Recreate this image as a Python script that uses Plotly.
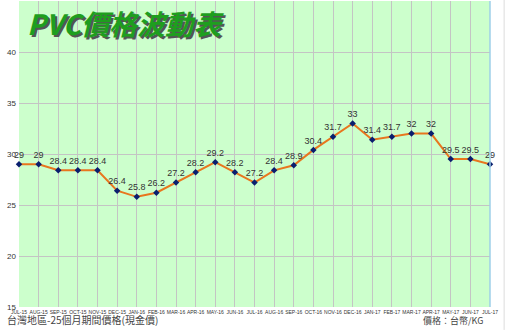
import plotly.graph_objects as go

months = ["JUL-15","AUG-15","SEP-15","OCT-15","NOV-15","DEC-15","JAN-16","FEB-16","MAR-16","APR-16",
          "MAY-16","JUN-16","JUL-16","AUG-16","SEP-16","OCT-16","NOV-16","DEC-16","JAN-17","FEB-17",
          "MAR-17","APR-17","MAY-17","JUN-17","JUL-17"]
prices = [29, 29, 28.4, 28.4, 28.4, 26.4, 25.8, 26.2, 27.2, 28.2,
          29.2, 28.2, 27.2, 28.4, 28.9, 30.4, 31.7, 33, 31.4, 31.7,
          32, 32, 29.5, 29.5, 29]
y_ticks = [15, 20, 25, 30, 35, 40, 45]

fig = go.Figure()
fig.add_trace(go.Scatter(
    x=months, y=prices, mode="lines+markers+text",
    line=dict(color="#E8761E", width=2),
    marker=dict(symbol="diamond", size=5, color="#0A1F6E"),
    text=[f"{p:g}" for p in prices], textposition="top center",
    textfont=dict(size=9, color="#333333", family="Liberation Sans"),
    cliponaxis=False, showlegend=False,
))

fig.update_layout(
    width=510, height=330,
    margin=dict(l=19, r=20, t=1, b=23),
    paper_bgcolor="white", plot_bgcolor="#CCFFCC",
    xaxis=dict(type="category", range=[0, 24], showgrid=True, gridcolor="#C4C4C4", gridwidth=1,
               tickfont=dict(size=5, color="#333333", family="Liberation Sans Narrow, Liberation Sans"),
               tickangle=0, ticks="", showline=False, zeroline=False, ticklabelstandoff=1),
    yaxis=dict(range=[15, 45], tickvals=y_ticks, showgrid=True, gridcolor="#C4C4C4",
               tickfont=dict(size=8, color="#333333", family="Liberation Sans"),
               ticks="", showline=False, zeroline=False, ticklabelstandoff=2),
)

# plot border on right
fig.add_shape(type="line", xref="paper", yref="paper", x0=1, x1=1, y0=0, y1=1,
              line=dict(color="#9ECFE8", width=1.5))
fig.add_shape(type="line", xref="paper", yref="paper", x0=1.03, x1=1.03, y0=-0.075, y1=1.01,
              line=dict(color="#DDDDDD", width=1))

title = "PVC價格波動表"
fig.add_annotation(text=title, xref="paper", yref="paper", x=0.012, y=1.0,
                   xanchor="left", yanchor="top", showarrow=False,
                   font=dict(size=28, color="#555555", family="Noto Sans CJK TC", style="italic", weight="bold"),
                   xshift=2, yshift=-2)
fig.add_annotation(text=title, xref="paper", yref="paper", x=0.012, y=1.0,
                   xanchor="left", yanchor="top", showarrow=False,
                   font=dict(size=28, color="#1E9E1E", family="Noto Sans CJK TC", style="italic", weight="bold"))

fig.add_annotation(text="台灣地區-25個月期間價格(現金價)", xref="paper", yref="paper",
                   x=-0.03, y=-0.073, xanchor="left", yanchor="bottom", showarrow=False,
                   font=dict(size=10, color="#444444", family="Noto Sans CJK TC"))
fig.add_annotation(text="價格：台幣/KG", xref="paper", yref="paper",
                   x=0.99, y=-0.073, xanchor="right", yanchor="bottom", showarrow=False,
                   font=dict(size=9, color="#444444", family="Noto Sans CJK TC"))

fig.write_html("out.html")
